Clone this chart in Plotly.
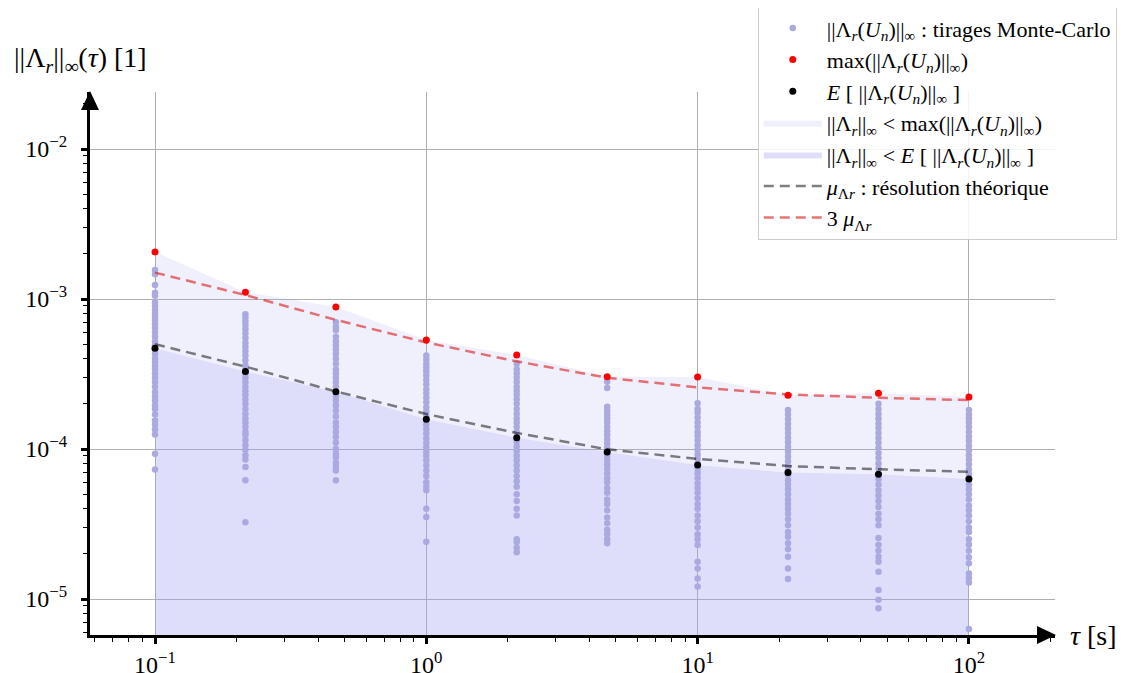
import plotly.graph_objects as go

# ---------------- data ----------------
tau = [0.1, 0.2154, 0.4642, 1.0, 2.154, 4.642, 10.0, 21.54, 46.42, 100.0]

mc_0 = [1.56e-3, 1.46e-3, 1.24e-3, 1.10e-3, 1.05e-3, 9.5e-4, 9.0e-4, 8.5e-4, 8.0e-4,
        7.6e-4, 7.2e-4, 6.8e-4, 6.4e-4, 6.0e-4, 5.6e-4, 5.2e-4, 4.9e-4, 4.6e-4, 4.3e-4,
        4.0e-4, 3.8e-4, 3.6e-4, 3.4e-4, 3.2e-4, 3.0e-4, 2.8e-4, 2.6e-4, 2.4e-4, 2.25e-4,
        2.1e-4, 1.95e-4, 1.85e-4, 1.7e-4, 1.55e-4, 1.45e-4, 1.35e-4, 1.25e-4, 9.3e-5, 7.3e-5]
mc_1 = [7.9e-4, 7.5e-4, 7.1e-4, 6.7e-4, 6.3e-4, 5.9e-4, 5.5e-4, 5.1e-4, 4.8e-4, 4.5e-4,
        4.2e-4, 3.9e-4, 3.6e-4, 3.4e-4, 3.2e-4, 3.0e-4, 2.8e-4, 2.6e-4, 2.45e-4, 2.3e-4,
        2.15e-4, 2.0e-4, 1.85e-4, 1.72e-4, 1.6e-4, 1.5e-4, 1.4e-4, 1.3e-4, 1.24e-4, 1.15e-4,
        1.06e-4, 9.9e-5, 9.1e-5, 8.5e-5, 7.6e-5, 6.2e-5, 3.25e-5]
mc_2 = [7.0e-4, 6.5e-4, 6.2e-4, 5.6e-4, 5.2e-4, 4.9e-4, 4.6e-4, 4.3e-4, 4.0e-4, 3.7e-4,
        3.4e-4, 3.2e-4, 3.0e-4, 2.8e-4, 2.6e-4, 2.4e-4, 2.25e-4, 2.1e-4, 1.95e-4, 1.8e-4,
        1.65e-4, 1.5e-4, 1.4e-4, 1.3e-4, 1.2e-4, 1.1e-4, 1.0e-4, 9.3e-5, 8.8e-5, 8.1e-5,
        7.6e-5, 7.2e-5, 6.2e-5]
mc_3 = [4.2e-4, 3.95e-4, 3.7e-4, 3.5e-4, 3.3e-4, 3.1e-4, 2.9e-4, 2.7e-4, 2.5e-4, 2.35e-4,
        2.2e-4, 2.05e-4, 1.9e-4, 1.78e-4, 1.66e-4, 1.55e-4, 1.45e-4, 1.36e-4, 1.27e-4,
        1.18e-4, 1.1e-4, 1.03e-4, 9.6e-5, 9.0e-5, 8.4e-5, 7.8e-5, 7.2e-5, 6.6e-5, 6.0e-5,
        5.6e-5, 5.3e-5, 4.0e-5, 3.52e-5, 2.41e-5]
mc_4 = [3.7e-4, 3.4e-4, 3.2e-4, 3.0e-4, 2.8e-4, 2.6e-4, 2.45e-4, 2.3e-4, 2.15e-4, 2.0e-4,
        1.85e-4, 1.72e-4, 1.6e-4, 1.5e-4, 1.4e-4, 1.3e-4, 1.2e-4, 1.12e-4, 1.04e-4, 9.7e-5,
        9.0e-5, 8.4e-5, 7.8e-5, 7.2e-5, 6.6e-5, 6.1e-5, 5.6e-5, 5.0e-5, 4.5e-5, 4.0e-5,
        3.6e-5, 2.5e-5, 2.4e-5, 2.2e-5, 2.05e-5]
mc_5 = [2.81e-4, 2.55e-4, 1.91e-4, 1.8e-4, 1.7e-4, 1.6e-4, 1.5e-4, 1.4e-4, 1.32e-4, 1.24e-4,
        1.16e-4, 1.09e-4, 1.02e-4, 9.6e-5, 9.0e-5, 8.4e-5, 7.9e-5, 7.4e-5, 6.9e-5, 6.4e-5,
        6.0e-5, 5.5e-5, 5.1e-5, 4.6e-5, 4.3e-5, 3.9e-5, 3.5e-5, 3.2e-5, 2.9e-5, 2.7e-5,
        2.5e-5, 2.35e-5]
mc_6 = [2.02e-4, 1.85e-4, 1.75e-4, 1.62e-4, 1.5e-4, 1.4e-4, 1.3e-4, 1.22e-4, 1.14e-4,
        1.06e-4, 9.9e-5, 9.2e-5, 8.6e-5, 8.0e-5, 7.4e-5, 6.9e-5, 6.4e-5, 5.9e-5, 5.5e-5,
        5.1e-5, 4.7e-5, 4.3e-5, 4.0e-5, 3.6e-5, 3.3e-5, 3.0e-5, 2.7e-5, 2.5e-5, 2.29e-5,
        1.77e-5, 1.6e-5, 1.37e-5, 1.21e-5]
mc_7 = [1.82e-4, 1.7e-4, 1.58e-4, 1.47e-4, 1.37e-4, 1.28e-4, 1.19e-4, 1.11e-4, 1.03e-4,
        9.6e-5, 8.9e-5, 8.3e-5, 7.7e-5, 7.2e-5, 6.7e-5, 6.2e-5, 5.8e-5, 5.4e-5, 5.0e-5,
        4.6e-5, 4.3e-5, 4.0e-5, 3.7e-5, 3.4e-5, 3.1e-5, 2.8e-5, 2.6e-5, 2.35e-5, 2.15e-5,
        1.91e-5, 1.6e-5, 1.36e-5]
mc_8 = [2.0e-4, 1.85e-4, 1.72e-4, 1.6e-4, 1.48e-4, 1.38e-4, 1.28e-4, 1.19e-4, 1.1e-4,
        1.02e-4, 9.4e-5, 8.7e-5, 8.0e-5, 7.4e-5, 6.8e-5, 6.3e-5, 5.8e-5, 5.3e-5, 4.9e-5,
        4.5e-5, 4.1e-5, 3.7e-5, 3.4e-5, 3.1e-5, 2.55e-5, 2.3e-5, 2.1e-5, 1.91e-5, 1.77e-5,
        1.52e-5, 1.15e-5, 9.9e-6, 8.67e-6]
mc_9 = [1.82e-4, 1.7e-4, 1.6e-4, 1.5e-4, 1.4e-4, 1.3e-4, 1.21e-4, 1.13e-4, 1.05e-4, 9.8e-5,
        9.1e-5, 8.5e-5, 7.9e-5, 7.3e-5, 6.8e-5, 6.3e-5, 5.8e-5, 5.4e-5, 5.0e-5, 4.6e-5,
        4.2e-5, 3.9e-5, 3.6e-5, 3.3e-5, 3.0e-5, 2.8e-5, 2.5e-5, 2.3e-5, 2.1e-5, 1.9e-5,
        1.73e-5, 1.48e-5, 1.38e-5, 1.29e-5, 6.3e-6]
mc_columns = [mc_0, mc_1, mc_2, mc_3, mc_4, mc_5, mc_6, mc_7, mc_8, mc_9]

max_vals = [2.06e-3, 1.11e-3, 8.85e-4, 5.33e-4, 4.23e-4, 3.03e-4, 3.02e-4, 2.28e-4, 2.35e-4, 2.22e-4]
mean_vals = [4.69e-4, 3.28e-4, 2.41e-4, 1.58e-4, 1.19e-4, 9.55e-5, 7.82e-5, 6.96e-5, 6.78e-5, 6.31e-5]
mu_vals = [5.0e-4, 3.54e-4, 2.42e-4, 1.71e-4, 1.28e-4, 9.95e-5, 8.58e-5, 7.7e-5, 7.32e-5, 7.06e-5]
mu3_vals = [3 * v for v in mu_vals]

# tick labels
x_decades = [0.1, 1, 10, 100]
x_ticktext = ["10<sup>−1</sup>", "10<sup>0</sup>", "10<sup>1</sup>", "10<sup>2</sup>"]
y_decades = [1e-5, 1e-4, 1e-3, 1e-2]
y_ticktext = ["10<sup>−5</sup>", "10<sup>−4</sup>", "10<sup>−3</sup>", "10<sup>−2</sup>"]

# ---------------- styling ----------------
FONT = "Liberation Serif"
MC_COLOR = "rgb(170,170,224)"
FILL_MAX = "rgba(160,160,240,0.16)"
FILL_MEAN = "rgba(160,160,240,0.35)"

mc_x = [t for t, col in zip(tau, mc_columns) for _ in col]
mc_y = [v for col in mc_columns for v in col]

lab_mc = "||Λ<sub><i>r</i></sub>(<i>U<sub>n</sub></i>)||<sub>∞</sub> : tirages Monte-Carlo"
lab_max = "max(||Λ<sub><i>r</i></sub>(<i>U<sub>n</sub></i>)||<sub>∞</sub>)"
lab_mean = "<i>E</i> [ ||Λ<sub><i>r</i></sub>(<i>U<sub>n</sub></i>)||<sub>∞</sub> ]"
lab_fmax = "||Λ<sub><i>r</i></sub>||<sub>∞</sub> &lt; max(||Λ<sub><i>r</i></sub>(<i>U<sub>n</sub></i>)||<sub>∞</sub>)"
lab_fmean = "||Λ<sub><i>r</i></sub>||<sub>∞</sub> &lt; <i>E</i> [ ||Λ<sub><i>r</i></sub>(<i>U<sub>n</sub></i>)||<sub>∞</sub> ]"
lab_mu = "<i>μ</i><sub>Λ<i>r</i></sub> : résolution théorique"
lab_mu3 = "3 <i>μ</i><sub>Λ<i>r</i></sub>"

fig = go.Figure()
fig.add_trace(go.Scatter(x=tau, y=mean_vals, mode="lines", line=dict(width=0),
                         fill="tozeroy", fillcolor=FILL_MEAN, name=lab_fmean,
                         legendrank=5, hoverinfo="skip"))
fig.add_trace(go.Scatter(x=tau, y=max_vals, mode="lines", line=dict(width=0),
                         fill="tonexty", fillcolor=FILL_MAX, name=lab_fmax,
                         legendrank=4, hoverinfo="skip"))
fig.add_trace(go.Scatter(x=mc_x, y=mc_y, mode="markers",
                         marker=dict(color=MC_COLOR, size=6.5), name=lab_mc, legendrank=1))
fig.add_trace(go.Scatter(x=tau, y=mu_vals, mode="lines",
                         line=dict(color="rgba(0,0,0,0.5)", width=2.5, dash="10px,6px"),
                         name=lab_mu, legendrank=6))
fig.add_trace(go.Scatter(x=tau, y=mu3_vals, mode="lines",
                         line=dict(color="rgba(220,30,30,0.62)", width=2.5, dash="10px,6px"),
                         name=lab_mu3, legendrank=7))
fig.add_trace(go.Scatter(x=tau, y=max_vals, mode="markers",
                         marker=dict(color="red", size=7), name=lab_max, legendrank=2))
fig.add_trace(go.Scatter(x=tau, y=mean_vals, mode="markers",
                         marker=dict(color="black", size=7), name=lab_mean, legendrank=3))


def minor_vals(decades):
    return [d * k for d in decades for k in range(2, 10)] + [decades[0] * k / 10 for k in range(2, 10)]


axis_common = dict(
    type="log", tickmode="array",
    showgrid=True, gridcolor="#b0b0b0", gridwidth=1,
    showline=True, linecolor="black", linewidth=3,
    ticks="outside", ticklen=6, tickwidth=2.5, tickcolor="black",
    tickfont=dict(family=FONT, size=24, color="black"),
    zeroline=False, mirror=False,
)

# the page body adds an 8 px offset, so the figure is 8 px smaller on each side
fig.update_layout(
    width=1129, height=665,
    margin=dict(l=82, r=82, t=84, b=38, autoexpand=False),
    paper_bgcolor="white", plot_bgcolor="white",
    font=dict(family=FONT, color="black"),
    xaxis=dict(range=[-1.2396, 2.3173], tickvals=x_decades, ticktext=x_ticktext,
               ticklabelstandoff=0,
               minor=dict(tickmode="array", tickvals=minor_vals(x_decades), ticks="outside",
                          ticklen=4, tickwidth=1.3, tickcolor="black", showgrid=False),
               **axis_common),
    yaxis=dict(range=[-5.24, -1.62], tickvals=y_decades, ticktext=y_ticktext,
               ticklabelstandoff=9,
               minor=dict(tickmode="array", tickvals=minor_vals(y_decades), ticks="outside",
                          ticklen=4, tickwidth=1.3, tickcolor="black", showgrid=False),
               **axis_common),
    legend=dict(x=0.692, y=1.158, xanchor="left", yanchor="top", traceorder="normal",
                itemwidth=58,
                bgcolor="rgba(255,255,255,0.85)", bordercolor="#cccccc", borderwidth=1,
                font=dict(family=FONT, size=22, color="black")),
    showlegend=True,
    annotations=[
        dict(text="||Λ<sub><i>r</i></sub>||<sub>∞</sub>(<i>τ</i>) [1]", xref="paper", yref="paper",
             x=-0.081, y=1.059, xanchor="left", yanchor="middle", showarrow=False,
             font=dict(family=FONT, size=28, color="black")),
        dict(text="<i>τ</i> [s]", xref="paper", yref="paper",
             x=1.0135, y=0.0, xanchor="left", yanchor="middle", showarrow=False,
             font=dict(family=FONT, size=28, color="black")),
    ],
    shapes=[
        dict(type="path", xref="paper", yref="paper", xsizemode="pixel", ysizemode="pixel",
             xanchor=0, yanchor=1, path="M -9,-18 L 9,-18 L 0,1 Z",
             fillcolor="black", line=dict(width=0)),
        dict(type="path", xref="paper", yref="paper", xsizemode="pixel", ysizemode="pixel",
             xanchor=1, yanchor=0, path="M -18,-9 L -18,9 L 1,0 Z",
             fillcolor="black", line=dict(width=0)),
    ],
)

fig.write_html("out.html")
